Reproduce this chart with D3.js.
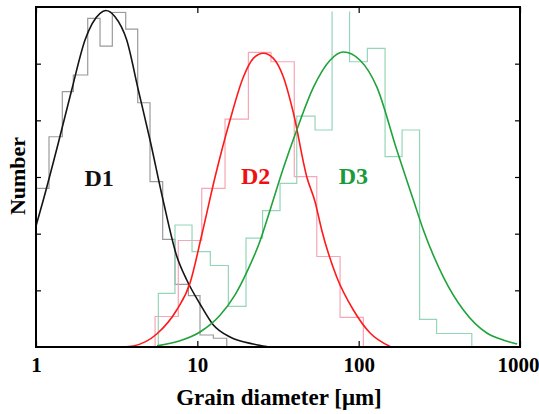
<!DOCTYPE html>
<html>
<head>
<meta charset="utf-8">
<script src="https://cdn.jsdelivr.net/npm/d3@7"></script>
<style>
  body { margin: 0; background: #fff; }
  svg text { font-family: "Liberation Serif", "Times New Roman", serif; font-weight: bold; }
</style>
</head>
<body>
<svg id="chart" width="539" height="414"></svg>
<script>
// histogram bin edges (grain diameter, um) and counts (arbitrary units)
const d1Edges = [1.0, 1.204, 1.456, 1.703, 2.092, 2.494, 2.972, 3.598, 4.27, 5.09, 6.10, 7.27, 8.80, 10.39, 12.57, 15.22];
const d1Counts = [2.8, 3.71, 4.505, 4.80, 5.80, 5.31, 5.906, 5.61, 4.31, 2.917, 1.90, 1.106, 0.905, 0.212, 0.154];

const d2Edges = [5.47, 7.62, 10.65, 14.85, 20.72, 28.6, 39.9, 55.0, 76.7, 106.9];
const d2Counts = [0.538, 1.879, 2.80, 4.023, 5.20, 5.034, 3.005, 1.597, 0.524];

const d3Edges = [5.73, 7.27, 9.27, 12.04, 15.57, 20.04, 25.37, 32.56, 41.33, 53.66, 68.42, 87.8, 113.2, 145.8, 185.8, 238.6, 304.1, 390.3, 502.6];
const d3Counts = [0.948, 2.153, 1.682, 1.438, 0.718, 1.923, 2.405, 2.889, 4.076, 3.829, 6.3, 5.034, 5.271, 3.358, 3.829, 0.489, 0.238, 0.238];

// fitted curves as [diameter, value]
const d1Fit = [[1.0,2.135],[1.110,2.594],[1.375,3.60],[1.664,4.535],[2.013,5.417],[2.494,5.888],[2.705,5.938],[3.089,5.829],[3.650,5.417],[4.307,4.535],[5.09,3.653],[6.13,2.594],[7.45,1.606],[8.60,1.182],[10.39,0.759],[12.57,0.388],[15.95,0.176],[22.15,0.053],[27.0,0.01]];
const d2Fit = [[3.462,0],[4.011,0.018],[5.603,0.229],[7.45,0.653],[9.01,1.129],[10.65,1.976],[12.88,3.0],[15.95,4.006],[19.29,4.764],[22.24,5.094],[25.66,5.183],[29.6,5.094],[34.15,4.764],[39.4,4.129],[47.7,3.0],[53.7,2.56],[59.0,2.065],[73.1,1.235],[92.7,0.653],[117.7,0.247],[156.5,0.01]];
const d3Fit = [[5.625,0.02],[7.81,0.11],[10.39,0.265],[13.82,0.56],[17.13,0.92],[20.33,1.33],[24.47,1.871],[28.23,2.415],[33.99,3.141],[41.33,3.83],[52.4,4.58],[66.5,5.06],[80.4,5.205],[102.0,5.06],[129.5,4.59],[172.3,3.476],[218.3,2.594],[251.8,2.065],[335.1,1.235],[445.9,0.653],[622.5,0.247],[785.6,0.124],[959.4,0.053]];

const xTicks = [1, 10, 100, 1000];
const yTicks = [1, 2, 3, 4, 5];

const labels = [
  {name: "D1", at: [2.46, 2.84], color: "#111"},
  {name: "D2", at: [23.0, 2.876], color: "#ee1111"},
  {name: "D3", at: [92.7, 2.876], color: "#1a9a3a"}
];

const width = 539, height = 414;
const margin = {top: 7, right: 19, bottom: 67, left: 36};

const svg = d3.select("#chart");

const x = d3.scaleLog().domain([1, 1000]).range([margin.left, width - margin.right]);
const y = d3.scaleLinear().domain([0, 6]).range([height - margin.bottom, margin.top]);

svg.append("clipPath").attr("id", "plotclip")
  .append("rect")
    .attr("x", margin.left).attr("y", y(5.92))
    .attr("width", x(1000) - x(1)).attr("height", y(0) - y(5.92));

svg.append("clipPath").attr("id", "curveclip")
  .append("rect")
    .attr("x", margin.left).attr("y", margin.top)
    .attr("width", x(1000) - x(1)).attr("height", y(0) - margin.top);

// step outline of a histogram
function stepPoints(edges, counts) {
  const pts = [[edges[0], 0]];
  counts.forEach((c, i) => {
    pts.push([edges[i], c]);
    pts.push([edges[i + 1], c]);
  });
  pts.push([edges[edges.length - 1], 0]);
  return pts;
}

const stepLine = d3.line().x(d => x(d[0])).y(d => y(d[1]));
const fitLine = d3.line().x(d => x(d[0])).y(d => y(d[1])).curve(d3.curveMonotoneX);

const hists = svg.append("g").attr("clip-path", "url(#plotclip)").attr("fill", "none").attr("stroke-width", 1.2);
hists.append("path").attr("d", stepLine(stepPoints(d1Edges, d1Counts))).attr("stroke", "#9a9a9a");
hists.append("path").attr("d", stepLine(stepPoints(d2Edges, d2Counts))).attr("stroke", "#f6a6b6");
hists.append("path").attr("d", stepLine(stepPoints(d3Edges, d3Counts))).attr("stroke", "#95d5b8");

const fits = svg.append("g").attr("clip-path", "url(#curveclip)").attr("fill", "none").attr("stroke-width", 1.6);
fits.append("path").attr("d", fitLine(d1Fit)).attr("stroke", "#151515");
fits.append("path").attr("d", fitLine(d2Fit)).attr("stroke", "#ff1a1a");
fits.append("path").attr("d", fitLine(d3Fit)).attr("stroke", "#1fa33a");

// minor ticks 2..9 per decade
const minor = [];
[1, 10, 100].forEach(p => { for (let k = 2; k <= 9; k++) minor.push(k * p); });

const bottomAxis = svg.append("g").attr("transform", `translate(0,${y(0)})`);
bottomAxis.call(d3.axisBottom(x).tickValues(minor).tickFormat("").tickSize(-3));
bottomAxis.call(d3.axisBottom(x).tickValues(xTicks).tickFormat(d3.format("d")).tickSize(-6).tickPadding(10));
bottomAxis.selectAll("text").attr("font-size", 21).attr("fill", "#000");
// keep the last label inside the window
bottomAxis.selectAll("text").filter(d => d === 1000).attr("dx", -2);

const topAxis = svg.append("g").attr("transform", `translate(0,${y(6)})`);
topAxis.call(d3.axisTop(x).tickValues(minor).tickFormat("").tickSize(-3));
topAxis.call(d3.axisTop(x).tickValues(xTicks).tickFormat("").tickSize(-6));

svg.append("g").attr("transform", `translate(${x(1)},0)`)
  .call(d3.axisLeft(y).tickValues(yTicks).tickFormat("").tickSize(-5));
svg.append("g").attr("transform", `translate(${x(1000)},0)`)
  .call(d3.axisRight(y).tickValues(yTicks).tickFormat("").tickSize(-5));

svg.selectAll(".domain").remove();
svg.selectAll(".tick line").attr("stroke", "#000").attr("stroke-width", 1.2);
svg.selectAll("g").attr("font-family", null);

// frame
svg.append("rect")
  .attr("x", x(1)).attr("y", y(6))
  .attr("width", x(1000) - x(1)).attr("height", y(0) - y(6))
  .attr("fill", "none").attr("stroke", "#000").attr("stroke-width", 2);

svg.selectAll("text.dlabel")
  .data(labels)
  .join("text")
    .attr("class", "dlabel")
    .attr("x", d => x(d.at[0]))
    .attr("y", d => y(d.at[1]))
    .attr("text-anchor", "middle")
    .attr("font-size", 24)
    .attr("fill", d => d.color)
    .text(d => d.name);

svg.append("text")
  .attr("x", 279).attr("y", 405)
  .attr("text-anchor", "middle")
  .attr("font-size", 23)
  .text("Grain diameter [μm]");

svg.append("text")
  .attr("transform", "translate(25,176) rotate(-90)")
  .attr("text-anchor", "middle")
  .attr("font-size", 22)
  .text("Number");
</script>
</body>
</html>
